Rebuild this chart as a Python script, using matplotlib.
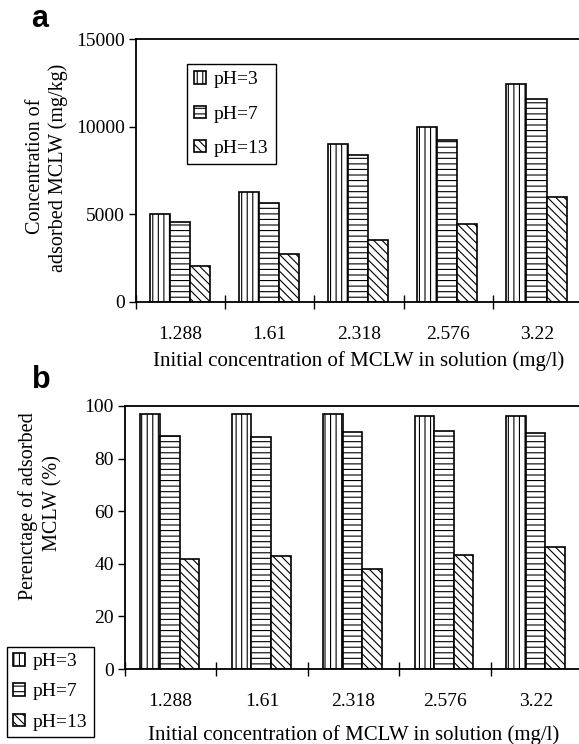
import numpy as np
import matplotlib
matplotlib.use('Agg')
import matplotlib.pyplot as plt

plt.rcParams['font.family'] = ['Liberation Serif', 'DejaVu Serif']
plt.rcParams['hatch.linewidth'] = 0.8

# data
conc_labels = ['1.288', '1.61', '2.318', '2.576', '3.22']
series_names = ['pH=3', 'pH=7', 'pH=13']
hatches = ['|||', '---', '\\\\\\\\']

# a: concentration of adsorbed MCLW (mg/kg)
a_ph3 = [5000, 6260, 9000, 10000, 12450]
a_ph7 = [4540, 5650, 8380, 9260, 11550]
a_ph13 = [2060, 2730, 3550, 4450, 5970]

# b: percentage of adsorbed MCLW (%)
b_ph3 = [97.0, 97.0, 97.0, 96.3, 96.3]
b_ph7 = [88.7, 88.1, 90.0, 90.5, 89.9]
b_ph13 = [41.8, 42.9, 38.1, 43.5, 46.5]

DPI = 100
W, H = 579, 744
fig = plt.figure(figsize=(W / DPI, H / DPI), dpi=DPI)
ax_a = fig.add_axes([136 / W, 1 - 302 / H, (582 - 136) / W, (302 - 39) / H])
ax_b = fig.add_axes([125 / W, 1 - 669 / H, (582 - 125) / W, (669 - 406) / H])

x = np.arange(len(conc_labels))


def draw_panel(ax, series, width, ylim, yticks):
    for k, vals in enumerate(series):
        ax.bar(x + (k - 1) * width - 0.01, vals, width, color='white',
               edgecolor='black', linewidth=1.2, hatch=hatches[k],
               label=series_names[k])
    ax.set_xlim(-0.5, len(conc_labels) - 0.5)
    ax.set_ylim(*ylim)
    ax.set_yticks(yticks)
    ax.set_xticks(np.arange(len(conc_labels) + 1) - 0.5)
    ax.set_xticklabels([])
    ax.set_xticks(x, minor=True)
    ax.set_xticklabels(conc_labels, minor=True)
    ax.tick_params(axis='x', which='major', direction='inout', length=10, width=1)
    ax.tick_params(axis='x', which='minor', length=0, pad=17, labelsize=14)
    ax.tick_params(axis='y', direction='out', length=5, width=1, labelsize=14, pad=3)
    for s in ax.spines.values():
        s.set_linewidth(1.3)
    ax.set_xlabel('Initial concentration of MCLW in solution (mg/l)', fontsize=15)


draw_panel(ax_a, [a_ph3, a_ph7, a_ph13], 0.225, (0, 15000), [0, 5000, 10000, 15000])
draw_panel(ax_b, [b_ph3, b_ph7, b_ph13], 0.215, (0, 100), [0, 20, 40, 60, 80, 100])
ax_a.xaxis.labelpad = 6
ax_b.xaxis.labelpad = 11

leg_kw = dict(bbox_transform=fig.transFigure, fontsize=14, frameon=True,
              fancybox=False, edgecolor='black', framealpha=1,
              handlelength=0.6, handleheight=0.6, handletextpad=0.4,
              borderaxespad=0, loc='upper left')
leg_a = ax_a.legend(bbox_to_anchor=(187 / W, 1 - 64 / H), labelspacing=0.88,
                    borderpad=0.38, **leg_kw)
leg_a.get_frame().set_linewidth(1.0)
leg_b = ax_b.legend(bbox_to_anchor=(7 / W, 1 - 647 / H), labelspacing=0.68,
                    borderpad=0.32, **leg_kw)
leg_b.get_frame().set_linewidth(1.0)

# two-line y labels
ylab_kw = dict(rotation=90, ha='center', va='center', fontsize=14.5)
fig.text(36 / W, 1 - 166 / H, 'Concentration of', **ylab_kw)
fig.text(58 / W, 1 - 168 / H, 'adsorbed MCLW (mg/kg)', **ylab_kw)
fig.text(28 / W, 1 - 506 / H, 'Perenctage of adsorbed', **ylab_kw)
fig.text(53 / W, 1 - 503 / H, 'MCLW (%)', **ylab_kw)

# panel letters
fig.text(31 / W, 1 - 19 / H, 'a', fontsize=22, fontweight='bold', family='Liberation Sans', ha='left', va='center')
fig.text(32 / W, 1 - 380 / H, 'b', fontsize=22, fontweight='bold', family='Liberation Sans', ha='left', va='center')

fig.savefig('out.png', dpi=DPI)
